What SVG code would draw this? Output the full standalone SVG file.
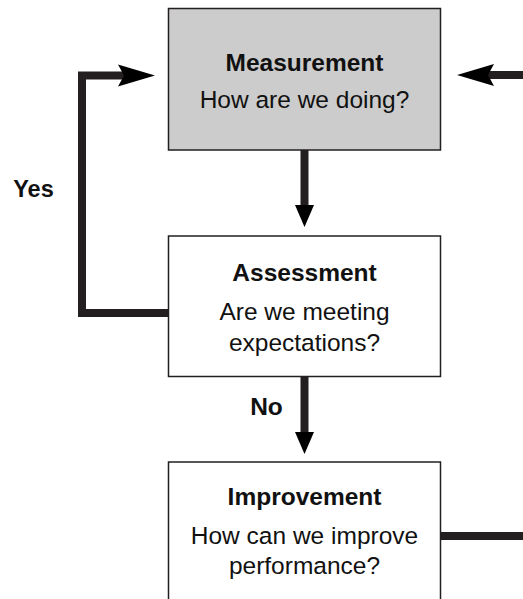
<svg xmlns="http://www.w3.org/2000/svg" width="523" height="599" viewBox="0 0 523 599">
  <style>
    .box { stroke: #231f20; stroke-width: 1.5; }
    .plain { fill: #ffffff; }
    .grey { fill: #cccccc; }
    .t { font-family: "Liberation Sans", Arial, sans-serif; font-size: 24.5px; fill: #111111; text-anchor: middle; }
    .b { font-weight: bold; }
    .conn { fill: none; stroke: #231f20; stroke-width: 8; stroke-linejoin: miter; stroke-linecap: butt; }
    .head { fill: #000000; }
  </style>
  <defs>
    <marker id="headH" markerUnits="userSpaceOnUse" markerWidth="37" markerHeight="22" refX="6" refY="11" orient="auto" overflow="visible">
      <path class="head" d="M0,0 L37,11 L0,22 L6,11 Z"/>
    </marker>
    <marker id="headV" markerUnits="userSpaceOnUse" markerWidth="22" markerHeight="19" refX="2" refY="9.5" orient="auto" overflow="visible">
      <path class="head" d="M0,0 L22,9.5 L0,19 Z"/>
    </marker>
  </defs>

  <rect width="523" height="599" fill="#ffffff"/>

  <g id="connectors">
    <path class="conn" d="M304.5,150 V207" marker-end="url(#headV)"/>
    <path class="conn" d="M304.5,377 V434" marker-end="url(#headV)"/>
    <path class="conn" d="M168,313 H82 V75.5 H124" marker-end="url(#headH)"/>
    <path class="conn" d="M523,75 H488" marker-end="url(#headH)"/>
    <path class="conn" d="M441,536 H523"/>
    <text class="t b" x="33.5" y="196.5" style="font-size:23.5px">Yes</text>
    <text class="t b" x="266.5" y="415">No</text>
  </g>

  <g id="measurement">
    <rect class="box grey" x="168.5" y="8.5" width="272" height="141.5"/>
    <text class="t b" x="304.5" y="71">Measurement</text>
    <text class="t" x="304.5" y="108.3">How are we doing?</text>
  </g>

  <g id="assessment">
    <rect class="box plain" x="168.5" y="236" width="272" height="140.5"/>
    <text class="t b" x="304.5" y="281">Assessment</text>
    <text class="t" x="304.5" y="319.8">Are we meeting</text>
    <text class="t" x="304.5" y="350.5">expectations?</text>
  </g>

  <g id="improvement">
    <rect class="box plain" x="168.5" y="462" width="272" height="160"/>
    <text class="t b" x="304.5" y="505.3">Improvement</text>
    <text class="t" x="304.5" y="543.5">How can we improve</text>
    <text class="t" x="304.5" y="573.5">performance?</text>
  </g>
</svg>
